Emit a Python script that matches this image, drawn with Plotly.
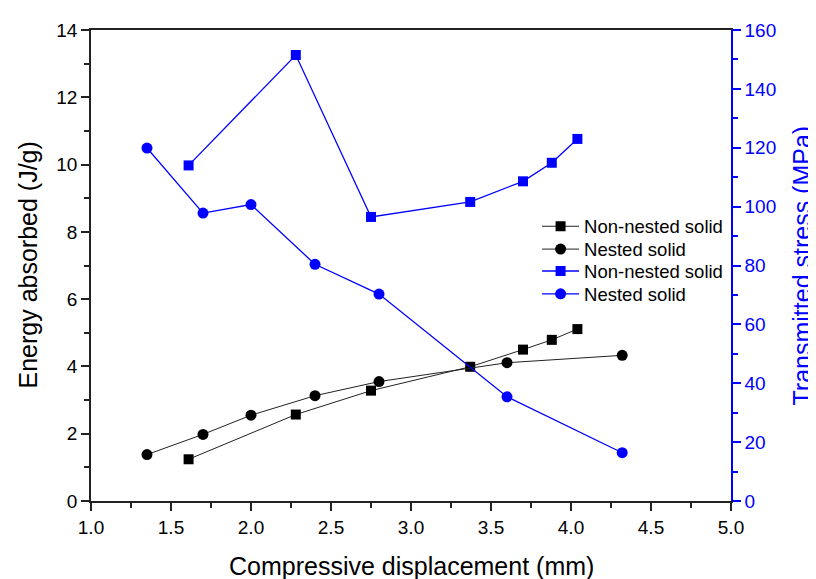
import plotly.graph_objects as go

# Data
x_nonnested = [1.61, 2.28, 2.75, 3.37, 3.70, 3.88, 4.04]
energy_nonnested = [1.24, 2.57, 3.28, 3.99, 4.50, 4.79, 5.11]
stress_nonnested = [114.0, 151.5, 96.5, 101.6, 108.6, 114.9, 123.0]

x_nested = [1.35, 1.70, 2.00, 2.40, 2.80, 3.60, 4.32]
energy_nested = [1.38, 1.98, 2.55, 3.13, 3.55, 4.11, 4.33]
stress_nested = [119.9, 97.8, 100.7, 80.4, 70.3, 35.4, 16.4]

series_names = ["Non-nested solid", "Nested solid", "Non-nested solid", "Nested solid"]
x_title = "Compressive displacement (mm)"
y_title = "Energy absorbed (J/g)"
y2_title = "Transmitted stress (MPa)"

FONT = "Liberation Sans, Arial, sans-serif"
BLUE = "#0000ff"
LINE_BLACK = "#222222"

fig = go.Figure()
fig.add_trace(go.Scatter(x=x_nonnested, y=energy_nonnested, name=series_names[0], legend="legend",
                         mode="lines+markers", line=dict(color=LINE_BLACK, width=1),
                         marker=dict(symbol="square", size=10, color="black")))
fig.add_trace(go.Scatter(x=x_nested, y=energy_nested, name=series_names[1], legend="legend2",
                         mode="lines+markers", line=dict(color=LINE_BLACK, width=1),
                         marker=dict(symbol="circle", size=11, color="black")))
fig.add_trace(go.Scatter(x=x_nonnested, y=stress_nonnested, name=series_names[2], yaxis="y2",
                         legend="legend3",
                         mode="lines+markers", line=dict(color=BLUE, width=1.3),
                         marker=dict(symbol="square", size=10, color=BLUE)))
fig.add_trace(go.Scatter(x=x_nested, y=stress_nested, name=series_names[3], yaxis="y2",
                         legend="legend4",
                         mode="lines+markers", line=dict(color=BLUE, width=1.3),
                         marker=dict(symbol="circle", size=11, color=BLUE)))

def leg(y):
    return dict(x=0.697, y=y, xanchor="left", yanchor="middle",
                bgcolor="rgba(0,0,0,0)", font=dict(size=18.5, color="black", family=FONT),
                itemwidth=37, borderwidth=0)

fig.update_layout(
    width=816, height=579,
    margin=dict(l=83, r=93, t=19, b=86),
    paper_bgcolor="white", plot_bgcolor="white",
    font=dict(family=FONT, size=19, color="black"),
    showlegend=True,
    legend=leg(0.5823), legend2=leg(0.5338), legend3=leg(0.4873), legend4=leg(0.4388),
    xaxis=dict(range=[1.0, 5.0], tickmode="linear", tick0=1.0, dtick=0.5,
               tickformat=".1f", ticks="outside", ticklen=8, tickwidth=1.5, tickcolor=LINE_BLACK,
               showline=True, linecolor=LINE_BLACK, linewidth=1.5, mirror=True,
               showgrid=False, zeroline=False,
               minor=dict(dtick=0.25, ticks="outside", ticklen=5, tickwidth=1.5, tickcolor=LINE_BLACK)),
    yaxis=dict(range=[0, 14], tickmode="linear", tick0=0, dtick=2,
               ticks="outside", ticklen=8, tickwidth=1.5, tickcolor=LINE_BLACK,
               showline=True, linecolor=LINE_BLACK, linewidth=1.5,
               showgrid=False, zeroline=False,
               minor=dict(dtick=1, ticks="outside", ticklen=5, tickwidth=1.5, tickcolor=LINE_BLACK)),
    yaxis2=dict(range=[0, 160], tickmode="linear", tick0=0, dtick=20,
                overlaying="y", side="right", anchor="x",
                ticks="outside", ticklen=8, tickwidth=1.5, tickcolor=BLUE,
                showline=True, linecolor=BLUE, linewidth=1.5,
                showgrid=False, zeroline=False,
                tickfont=dict(color=BLUE),
                minor=dict(dtick=10, ticks="outside", ticklen=5, tickwidth=1.5, tickcolor=BLUE)),
    annotations=[
        dict(text=x_title, xref="paper", yref="paper", x=0.5, y=-0.139,
             xanchor="center", yanchor="middle", showarrow=False,
             font=dict(size=25, color="black")),
        dict(text=y_title, xref="paper", yref="paper", x=-0.1, y=0.5,
             xanchor="center", yanchor="middle", showarrow=False, textangle=-90,
             font=dict(size=25, color="black")),
        dict(text=y2_title, xref="paper", yref="paper", x=1.1094, y=0.5,
             xanchor="center", yanchor="middle", showarrow=False, textangle=-90,
             font=dict(size=25, color=BLUE)),
    ],
)

fig.write_html("out.html")
